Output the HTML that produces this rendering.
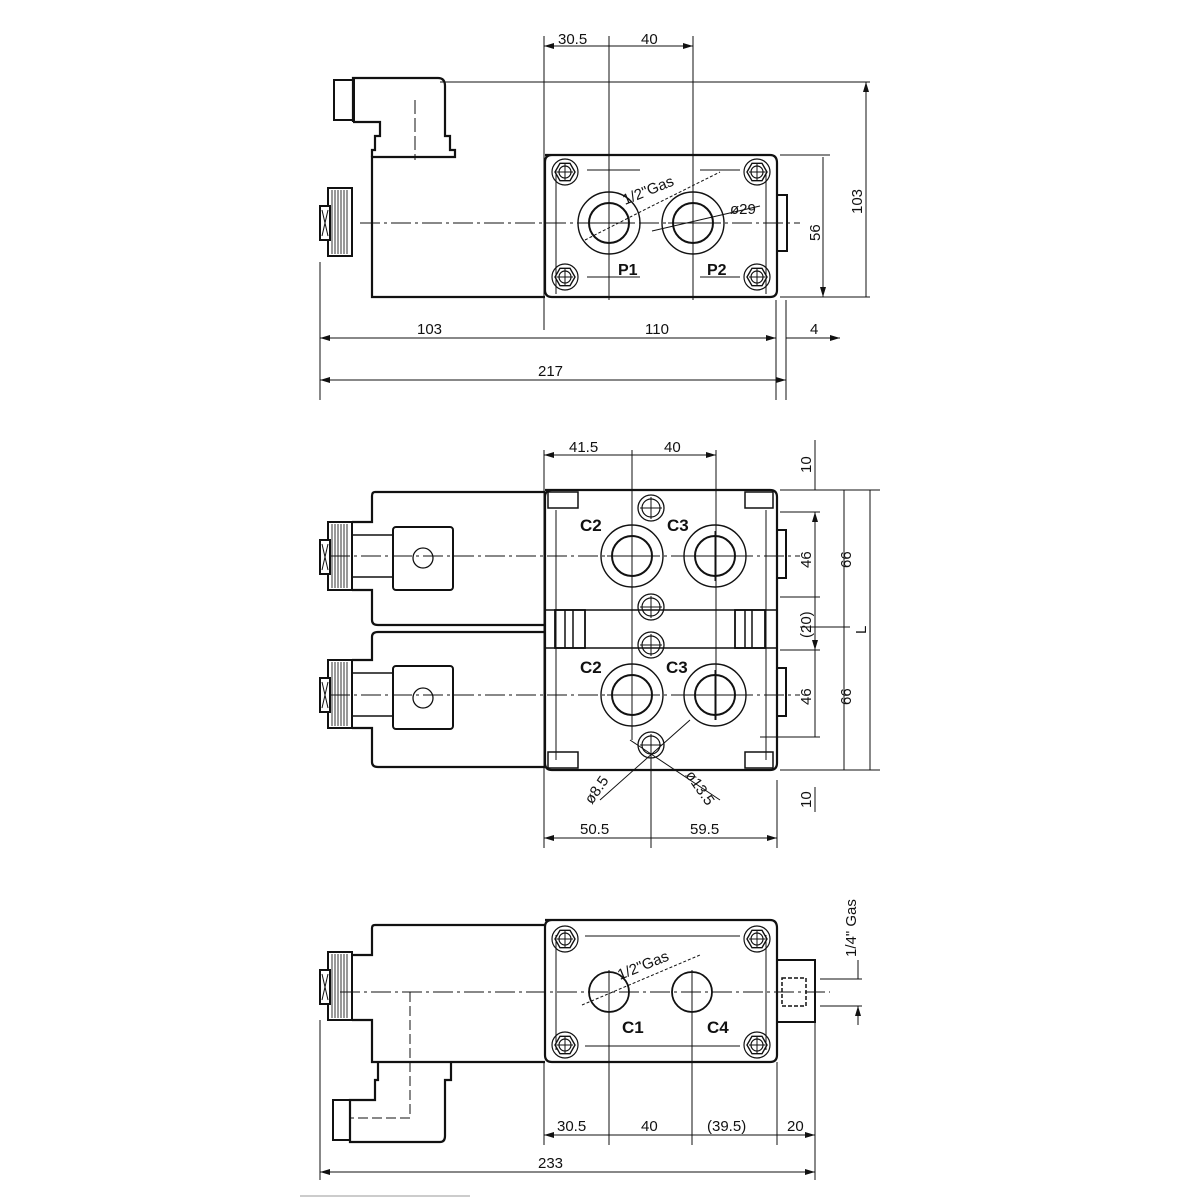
<!DOCTYPE html>
<html><head><style>html,body{margin:0;padding:0;background:#fff}svg{display:block}</style></head>
<body>
<svg width="1200" height="1200" viewBox="0 0 1200 1200" xmlns="http://www.w3.org/2000/svg" font-family="Liberation Sans, sans-serif">
<defs>
<marker id="a" viewBox="0 0 10 6" refX="10" refY="3" markerWidth="10" markerHeight="6" orient="auto-start-reverse" markerUnits="userSpaceOnUse"><path d="M0,0 L10,3 L0,6 z" fill="#111"/></marker>
<g id="bolt"><circle r="13" fill="none" stroke="#111" stroke-width="1.2"/><polygon points="10,0 5,8.7 -5,8.7 -10,0 -5,-8.7 5,-8.7" fill="none" stroke="#111" stroke-width="1.4"/><circle r="6" fill="none" stroke="#111" stroke-width="1.2"/><path d="M-8,0H8M0,-8V8" stroke="#111" stroke-width="1"/></g>
<g id="port"><circle r="31" fill="none" stroke="#111" stroke-width="1.4"/><circle r="20" fill="none" stroke="#111" stroke-width="2"/><path d="M-25,0H25M0,-25V25" stroke="#111" stroke-width="1"/></g>
<g id="sm"><circle r="13" fill="none" stroke="#111" stroke-width="1.3"/><circle r="9" fill="none" stroke="#111" stroke-width="1.2"/><path d="M-11,0H11M0,-11V11" stroke="#111" stroke-width="1"/></g>
<g id="knob"><rect x="8" y="0" width="24" height="68" fill="#fff" stroke="#111" stroke-width="2"/><path d="M12,2V66M15,2V66M18,2V66M21,2V66M24,2V66M27,2V66" stroke="#333" stroke-width="1"/><rect x="0" y="18" width="10" height="34" fill="#fff" stroke="#111" stroke-width="2"/><path d="M2,22L8,48M8,22L2,48" stroke="#111"/></g>
</defs>
<g stroke="#111" fill="none" stroke-width="2.2">
<!-- TOP VIEW -->
<path d="M353,122V78H438Q445,78 445,86V136H450V150H455V157H372V297H545"/>
<path d="M353,122H380V136H375V150H372V157"/>
<rect x="334" y="80" width="20" height="40" stroke-width="2"/>
<path d="M545,155H770Q777,155 777,163V290Q777,297 770,297H552Q545,297 545,290V162Q545,155 552,155"/>
<rect x="777" y="195" width="10" height="56" stroke-width="2"/>
<path d="M556,170V294M766,170V294" stroke-width="1"/>
<path d="M587,170H640M700,170H740M587,277H640M700,277H740" stroke-width="1"/>
</g>
<use href="#knob" x="320" y="188"/>
<use href="#bolt" x="565" y="172"/><use href="#bolt" x="757" y="172"/><use href="#bolt" x="565" y="277"/><use href="#bolt" x="757" y="277"/>
<use href="#port" x="609" y="223"/><use href="#port" x="693" y="223"/>
<g stroke="#111" stroke-width="1" fill="none">
<path d="M360,223H800" stroke-dasharray="20,4,3,4"/>
<path d="M415,100V160" stroke-dasharray="14,4"/>
<path d="M544,36V330M609,36V300M693,36V300M776,300V400M786,300V400M320,262V400"/>
<path d="M440,82H870M780,155H830M780,297H870"/>
<path d="M544,46H609M609,46H693" marker-start="url(#a)" marker-end="url(#a)"/>
<path d="M866,82V297M823,157V297" marker-start="url(#a)" marker-end="url(#a)"/>
<path d="M320,338H544M544,338H776" marker-start="url(#a)" marker-end="url(#a)"/>
<path d="M766,338H776M796,338H786M786,338H840" marker-end="url(#a)"/>
<path d="M320,380H786" marker-start="url(#a)" marker-end="url(#a)"/>
<path d="M585,240L650,207L720,172" stroke-dasharray="3,2"/>
<path d="M652,231L760,206"/>
</g>
<g font-size="15" fill="#111">
<text x="558" y="44">30.5</text><text x="641" y="44">40</text>
<text x="417" y="334">103</text><text x="645" y="334">110</text><text x="810" y="334">4</text>
<text x="538" y="376">217</text>
<text transform="translate(862,200) rotate(-90)" x="-14" y="0">103</text>
<text transform="translate(820,233) rotate(-90)" x="-8" y="0">56</text>
<text transform="translate(625,205) rotate(-22)">1/2"Gas</text>
<text x="730" y="214">ø29</text>
<text x="618" y="275" font-weight="bold" font-size="16">P1</text><text x="707" y="275" font-weight="bold" font-size="16">P2</text>
</g>

<!-- MIDDLE VIEW -->
<g stroke="#111" fill="none" stroke-width="2.2">
<path d="M545,492H375Q372,492 372,496V522H352M352,590H372V620Q372,625 378,625H545"/>
<path d="M545,632H378Q372,632 372,637V660H352M352,728H372V762Q372,767 378,767H545"/>
<path d="M545,490H770Q777,490 777,497V763Q777,770 770,770H552Q545,770 545,763V497Q545,490 552,490Z"/>
<rect x="777" y="530" width="9" height="48" stroke-width="2"/>
<rect x="777" y="668" width="9" height="48" stroke-width="2"/>
<rect x="393" y="527" width="60" height="63" rx="3" stroke-width="2"/>
<rect x="393" y="666" width="60" height="63" rx="3" stroke-width="2"/>
<path d="M352,535H393M352,577H393M352,673H393M352,716H393" stroke-width="1.5"/>
<path d="M545,610H777M545,648H777" stroke-width="1.5"/>
<rect x="555" y="610" width="30" height="38" stroke-width="1.8"/><rect x="735" y="610" width="30" height="38" stroke-width="1.8"/>
<path d="M565,610V648M573,610V648M745,610V648M752,610V648" stroke-width="1.5"/>
<rect x="548" y="492" width="30" height="16" stroke-width="1.5"/><rect x="745" y="492" width="28" height="16" stroke-width="1.5"/>
<rect x="548" y="752" width="30" height="16" stroke-width="1.5"/><rect x="745" y="752" width="28" height="16" stroke-width="1.5"/>
<path d="M556,510V760M766,510V760" stroke-width="1"/>
</g>
<use href="#knob" x="320" y="522"/><use href="#knob" x="320" y="660"/>
<g stroke="#111" stroke-width="1.3" fill="none"><circle cx="423" cy="558" r="10"/><circle cx="423" cy="698" r="10"/></g>
<use href="#port" x="632" y="556"/><use href="#port" x="715" y="556"/><use href="#port" x="632" y="695"/><use href="#port" x="715" y="695"/>
<use href="#sm" x="651" y="508"/><use href="#sm" x="651" y="607"/><use href="#sm" x="651" y="645"/><use href="#sm" x="651" y="745"/>
<g stroke="#111" stroke-width="1" fill="none">
<path d="M330,556H800M330,695H800" stroke-dasharray="20,4,3,4"/>
<path d="M544,450V848M632,450V740M716,450V720M651,740V848M777,780V848"/>
<path d="M780,490H880M780,512H820M780,597H820M780,650H820M760,737H820M780,770H880M800,627H850"/>
<path d="M815,440V490M815,787V812" />
<path d="M815,512V597M815,650V737M844,490V627M844,627V770M870,490V770M815,597V650" marker-start="url(#a)" marker-end="url(#a)"/>
<path d="M544,455H632M632,455H716" marker-start="url(#a)" marker-end="url(#a)"/>
<path d="M544,838H651M651,838H777" marker-start="url(#a)" marker-end="url(#a)"/>
<path d="M600,800L690,720M630,740L720,800"/>
</g>
<g font-size="15" fill="#111">
<text x="569" y="452">41.5</text><text x="664" y="452">40</text>
<text x="580" y="834">50.5</text><text x="690" y="834">59.5</text>
<text x="580" y="531" font-weight="bold" font-size="17">C2</text><text x="667" y="531" font-weight="bold" font-size="17">C3</text>
<text x="580" y="673" font-weight="bold" font-size="17">C2</text><text x="666" y="673" font-weight="bold" font-size="17">C3</text>
<text transform="translate(811,465) rotate(-90)" x="-8">10</text>
<text transform="translate(811,560) rotate(-90)" x="-8">46</text>
<text transform="translate(811,624) rotate(-90)" x="-14">(20)</text>
<text transform="translate(811,697) rotate(-90)" x="-8">46</text>
<text transform="translate(811,800) rotate(-90)" x="-8">10</text>
<text transform="translate(851,560) rotate(-90)" x="-8">66</text>
<text transform="translate(851,697) rotate(-90)" x="-8">66</text>
<text transform="translate(866,630) rotate(-90)" x="-4">L</text>
<text transform="translate(592,805) rotate(-55)">ø8.5</text>
<text transform="translate(685,775) rotate(55)">ø13.5</text>
</g>

<!-- BOTTOM VIEW -->
<g stroke="#111" fill="none" stroke-width="2.2">
<path d="M545,925H375Q372,925 372,928V955H352M352,1020H372V1062H545"/>
<path d="M545,920H770Q777,920 777,928V1055Q777,1062 770,1062H552Q545,1062 545,1055V927Q545,920 552,920Z"/>
<rect x="777" y="960" width="38" height="62" stroke-width="2"/>
<path d="M378,1062V1080H375V1100H350V1142H440Q445,1142 445,1136V1080H451V1062"/>
<rect x="333" y="1100" width="17" height="40" stroke-width="2"/>
<path d="M556,935V1050M766,935V1050M585,936H740M585,1046H740" stroke-width="1"/>
<rect x="782" y="978" width="24" height="28" stroke-width="1.5" stroke-dasharray="4,2"/>
</g>
<use href="#knob" x="320" y="952"/>
<use href="#bolt" x="565" y="939"/><use href="#bolt" x="757" y="939"/><use href="#bolt" x="565" y="1045"/><use href="#bolt" x="757" y="1045"/>
<g stroke="#111" stroke-width="1.8" fill="none"><circle cx="609" cy="992" r="20"/><circle cx="692" cy="992" r="20"/></g>
<g stroke="#111" stroke-width="1" fill="none">
<path d="M340,992H830" stroke-dasharray="20,4,3,4"/>
<path d="M410,992V1118H350" stroke-dasharray="10,4"/>
<path d="M544,1062V1145M609,970V1145M692,970V1145M777,1062V1145M815,1022V1180M320,1020V1180"/>
<path d="M544,1135H609M609,1135H692M692,1135H777M777,1135H815" marker-start="url(#a)" marker-end="url(#a)"/>
<path d="M320,1172H815" marker-start="url(#a)" marker-end="url(#a)"/>
<path d="M820,979H862M820,1006H862M858,960V979M858,1006V1025" />
<path d="M858,965V979M858,1020V1006" marker-end="url(#a)"/>
<path d="M582,1005L700,955" stroke-dasharray="3,2"/>
</g>
<g font-size="15" fill="#111">
<text x="557" y="1131">30.5</text><text x="641" y="1131">40</text><text x="707" y="1131">(39.5)</text><text x="787" y="1131">20</text>
<text x="538" y="1168">233</text>
<text x="622" y="1033" font-weight="bold" font-size="17">C1</text><text x="707" y="1033" font-weight="bold" font-size="17">C4</text>
<text transform="translate(620,980) rotate(-22)">1/2"Gas</text>
<text transform="translate(856,957) rotate(-90)">1/4" Gas</text>
</g>
<path d="M300,1196H470" stroke="#999" stroke-width="1"/>
</svg>
</body></html>
